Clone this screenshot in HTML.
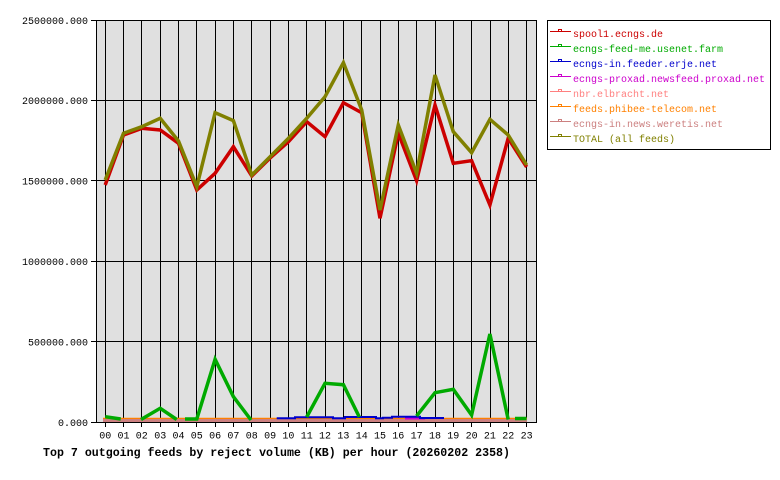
<!DOCTYPE html>
<html>
<head>
<meta charset="utf-8">
<style>
html,body{margin:0;padding:0;background:#fff;}
svg{display:block;}
text{font-family:"Liberation Mono","DejaVu Sans Mono",monospace;}
</style>
</head>
<body>
<svg width="780" height="480" viewBox="0 0 780 480" xmlns="http://www.w3.org/2000/svg">
  <rect x="0" y="0" width="780" height="480" fill="#ffffff"/>
  <rect x="96" y="20" width="440" height="402" fill="#e0e0e0"/>

  <g stroke="#000" stroke-width="1" shape-rendering="crispEdges">
    <line x1="91" y1="20.5" x2="536" y2="20.5"/>
    <line x1="91" y1="100.5" x2="536" y2="100.5"/>
    <line x1="91" y1="180.5" x2="536" y2="180.5"/>
    <line x1="91" y1="261.5" x2="536" y2="261.5"/>
    <line x1="91" y1="341.5" x2="536" y2="341.5"/>
    <line x1="96.5" y1="20" x2="96.5" y2="423"/>
    <line x1="536.5" y1="20" x2="536.5" y2="423"/>
    <line x1="105.5" y1="20" x2="105.5" y2="427"/>
    <line x1="123.5" y1="20" x2="123.5" y2="427"/>
    <line x1="141.5" y1="20" x2="141.5" y2="427"/>
    <line x1="160.5" y1="20" x2="160.5" y2="427"/>
    <line x1="178.5" y1="20" x2="178.5" y2="427"/>
    <line x1="196.5" y1="20" x2="196.5" y2="427"/>
    <line x1="215.5" y1="20" x2="215.5" y2="427"/>
    <line x1="233.5" y1="20" x2="233.5" y2="427"/>
    <line x1="251.5" y1="20" x2="251.5" y2="427"/>
    <line x1="270.5" y1="20" x2="270.5" y2="427"/>
    <line x1="288.5" y1="20" x2="288.5" y2="427"/>
    <line x1="306.5" y1="20" x2="306.5" y2="427"/>
    <line x1="325.5" y1="20" x2="325.5" y2="427"/>
    <line x1="343.5" y1="20" x2="343.5" y2="427"/>
    <line x1="361.5" y1="20" x2="361.5" y2="427"/>
    <line x1="380.5" y1="20" x2="380.5" y2="427"/>
    <line x1="398.5" y1="20" x2="398.5" y2="427"/>
    <line x1="416.5" y1="20" x2="416.5" y2="427"/>
    <line x1="435.5" y1="20" x2="435.5" y2="427"/>
    <line x1="453.5" y1="20" x2="453.5" y2="427"/>
    <line x1="471.5" y1="20" x2="471.5" y2="427"/>
    <line x1="490.5" y1="20" x2="490.5" y2="427"/>
    <line x1="508.5" y1="20" x2="508.5" y2="427"/>
    <line x1="526.5" y1="20" x2="526.5" y2="427"/>
  </g>

  <g font-size="10" fill="#000" text-anchor="end">
    <text x="88" y="24">2500000.000</text>
    <text x="88" y="104">2000000.000</text>
    <text x="88" y="184.5">1500000.000</text>
    <text x="88" y="265">1000000.000</text>
    <text x="88" y="345.5">500000.000</text>
    <text x="88" y="426">0.000</text>
  </g>

  <g font-size="10" fill="#000" text-anchor="middle">
    <text x="105.2" y="438.5">00</text>
    <text x="123.5" y="438.5">01</text>
    <text x="141.8" y="438.5">02</text>
    <text x="160.2" y="438.5">03</text>
    <text x="178.5" y="438.5">04</text>
    <text x="196.8" y="438.5">05</text>
    <text x="215.1" y="438.5">06</text>
    <text x="233.4" y="438.5">07</text>
    <text x="251.8" y="438.5">08</text>
    <text x="270.1" y="438.5">09</text>
    <text x="288.4" y="438.5">10</text>
    <text x="306.7" y="438.5">11</text>
    <text x="325.0" y="438.5">12</text>
    <text x="343.4" y="438.5">13</text>
    <text x="361.7" y="438.5">14</text>
    <text x="380.0" y="438.5">15</text>
    <text x="398.3" y="438.5">16</text>
    <text x="416.6" y="438.5">17</text>
    <text x="435.0" y="438.5">18</text>
    <text x="453.3" y="438.5">19</text>
    <text x="471.6" y="438.5">20</text>
    <text x="489.9" y="438.5">21</text>
    <text x="508.2" y="438.5">22</text>
    <text x="526.6" y="438.5">23</text>
  </g>

  <text x="43" y="456" font-size="11.6" font-weight="bold" fill="#000" textLength="467" lengthAdjust="spacing">Top 7 outgoing feeds by reject volume (KB) per hour (20260202 2358)</text>

  <line x1="103" y1="418.5" x2="527" y2="418.5" stroke="#ff8000" stroke-width="1.5"/>
  <line x1="103" y1="420.5" x2="527" y2="420.5" stroke="#cc8080" stroke-width="3"/>
  <line x1="91" y1="422.5" x2="536" y2="422.5" stroke="#000" stroke-width="1" shape-rendering="crispEdges"/>
  <polyline fill="none" stroke="#cc00cc" stroke-width="2" points="405,418.5 425,418.5"/>
  <polyline fill="none" stroke="#0000cc" stroke-width="2" points="276.7,418.3 295,418.3 295,417.3 333,417.3 333,418.3 345,418.3 345,417 376,417 376,418.3 383,418.3 383,417.7 392,417.7 392,416.7 420,416.7 420,418 444,418"/>

  <g fill="none" stroke="#00aa00" stroke-width="3.5" stroke-linejoin="miter">
    <polyline points="105.2,416.7 120.7,419"/>
    <polyline points="141,419.5 160.2,408.3 176.7,419.5"/>
    <polyline points="185,419 196.8,419 215.1,359.3 233.4,396.7 251,420"/>
    <polyline points="306.7,417 325,383.3 343.4,384.7 359.3,417"/>
    <polyline points="416.6,416 435,392.7 453.3,389.3 471.6,415 489.9,334 508.2,419.5"/>
    <polyline points="515,418.5 526.6,418.5"/>
  </g>

  <polyline fill="none" stroke="#cc0000" stroke-width="3.5" stroke-linejoin="miter"
    points="105.2,185 123.5,135 141.8,128.3 160.2,130 178.5,143.3 196.8,190 215.1,173.3 233.4,146.7 251.8,176 270.1,158 288.4,141.7 306.7,121.7 325.0,136.7 343.4,102.7 361.7,112.7 380.0,218.3 398.3,133.3 416.6,180.7 435.0,105 453.3,163.3 471.6,160.7 489.9,205 508.2,138.3 526.6,167"/>

  <polyline fill="none" stroke="#808000" stroke-width="3.5" stroke-linejoin="miter"
    points="105.2,180 123.5,133.3 141.8,126.7 160.2,118.3 178.5,141 196.8,186.7 215.1,112.7 233.4,120.7 251.8,175 270.1,156.7 288.4,138.3 306.7,118.3 325.0,96.7 343.4,62.7 361.7,110 380.0,210 398.3,125 416.6,173.3 435.0,75 453.3,131.7 471.6,152.7 489.9,119.3 508.2,135 526.6,165"/>

  <rect x="547.5" y="20.5" width="223" height="129" fill="#ffffff" stroke="#000" stroke-width="1" shape-rendering="crispEdges"/>
  <line x1="550" y1="31.5" x2="571" y2="31.5" stroke="#cc0000" stroke-width="1" shape-rendering="crispEdges"/>
  <rect x="558.5" y="29.5" width="3" height="2" fill="none" stroke="#cc0000" stroke-width="1" shape-rendering="crispEdges"/>
  <line x1="550" y1="46.5" x2="571" y2="46.5" stroke="#00aa00" stroke-width="1" shape-rendering="crispEdges"/>
  <rect x="558.5" y="44.5" width="3" height="2" fill="none" stroke="#00aa00" stroke-width="1" shape-rendering="crispEdges"/>
  <line x1="550" y1="61.5" x2="571" y2="61.5" stroke="#0000cc" stroke-width="1" shape-rendering="crispEdges"/>
  <rect x="558.5" y="59.5" width="3" height="2" fill="none" stroke="#0000cc" stroke-width="1" shape-rendering="crispEdges"/>
  <line x1="550" y1="76.5" x2="571" y2="76.5" stroke="#cc00cc" stroke-width="1" shape-rendering="crispEdges"/>
  <rect x="558.5" y="74.5" width="3" height="2" fill="none" stroke="#cc00cc" stroke-width="1" shape-rendering="crispEdges"/>
  <line x1="550" y1="91.5" x2="571" y2="91.5" stroke="#ff8080" stroke-width="1" shape-rendering="crispEdges"/>
  <rect x="558.5" y="89.5" width="3" height="2" fill="none" stroke="#ff8080" stroke-width="1" shape-rendering="crispEdges"/>
  <line x1="550" y1="106.5" x2="571" y2="106.5" stroke="#ff8000" stroke-width="1" shape-rendering="crispEdges"/>
  <rect x="558.5" y="104.5" width="3" height="2" fill="none" stroke="#ff8000" stroke-width="1" shape-rendering="crispEdges"/>
  <line x1="550" y1="121.5" x2="571" y2="121.5" stroke="#cc8080" stroke-width="1" shape-rendering="crispEdges"/>
  <rect x="558.5" y="119.5" width="3" height="2" fill="none" stroke="#cc8080" stroke-width="1" shape-rendering="crispEdges"/>
  <line x1="550" y1="136.5" x2="571" y2="136.5" stroke="#808000" stroke-width="1" shape-rendering="crispEdges"/>
  <rect x="558.5" y="134.5" width="3" height="2" fill="none" stroke="#808000" stroke-width="1" shape-rendering="crispEdges"/>
  <g font-size="10">
    <text x="573" y="37" fill="#cc0000">spool1.ecngs.de</text>
    <text x="573" y="52" fill="#00aa00">ecngs-feed-me.usenet.farm</text>
    <text x="573" y="67" fill="#0000cc">ecngs-in.feeder.erje.net</text>
    <text x="573" y="82" fill="#cc00cc">ecngs-proxad.newsfeed.proxad.net</text>
    <text x="573" y="97" fill="#ff8080">nbr.elbracht.net</text>
    <text x="573" y="112" fill="#ff8000">feeds.phibee-telecom.net</text>
    <text x="573" y="127" fill="#cc8080">ecngs-in.news.weretis.net</text>
    <text x="573" y="142" fill="#808000">TOTAL (all feeds)</text>
  </g>
</svg>
</body>
</html>
